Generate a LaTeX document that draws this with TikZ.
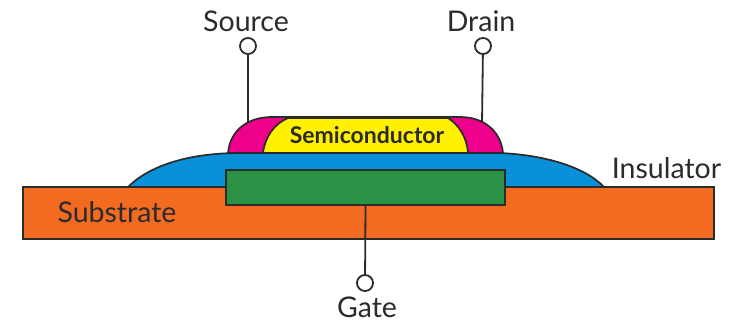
\documentclass[tikz,border=0pt]{standalone}
\usepackage{fontspec}
\setmainfont{Lato}
\definecolor{subst}{HTML}{F36A21}
\definecolor{insul}{HTML}{0A8FD9}
\definecolor{gatec}{HTML}{2A9145}
\definecolor{semi}{HTML}{FFF100}
\definecolor{magen}{HTML}{EC008C}
\definecolor{linec}{HTML}{2B2B2B}
\tikzset{
 px/.style={x=1pt,y=-1pt},
 part/.style={draw=linec,line width=1.7pt},
 wire/.style={draw=linec,line width=1.8pt},
 term/.style={circle,draw=linec,line width=1.8pt,fill=white,minimum size=16pt,inner sep=0pt},
 lab/.style={inner sep=0pt,text=linec,font=\fontsize{28.5}{30}\selectfont},
 sublab/.style={inner sep=0pt,text=linec,font=\fontsize{23}{26}\selectfont\bfseries}
}
\begin{document}
\begin{tikzpicture}[px]
\useasboundingbox (0,0) rectangle (731,322);
\coordinate (sbot) at (248,124);
\coordinate (dbot) at (482,124);
\node[term] (s) at (248,46) {};
\node[term] (d) at (483,46) {};
\node[term] (g) at (365,283) {};
\draw[wire] (s) -- (sbot);
\draw[wire] (d) -- (dbot);
\path[part,fill=subst] (23,187) rectangle (714,239);
\path[part,fill=magen] (228,153) .. controls (230,130) and (248,117) .. (272,117) -- (460,117) .. controls (485,117) and (501,132) .. (503,153) -- cycle;
\path[part,fill=semi] (263,153) .. controls (265,137) and (274,124) .. (288,118) -- (448,118) .. controls (458,124) and (467,137) .. (468,153) -- cycle;
\path[part,fill=insul] (128,187) .. controls (150,165) and (190,153) .. (240,153) -- (500,153) .. controls (545,155) and (585,167) .. (604,187) -- cycle;
\node[draw=linec,line width=1.9pt,fill=gatec,minimum width=279pt,minimum height=35pt,inner sep=0pt] (gate) at (365.5,187.5) {};
\draw[wire] (gate.south) -- (g);
\node[lab] at (246,21) {Source};
\node[lab] at (481,21) {Drain};
\node[lab] at (666.5,168) {Insulator};
\node[lab] at (117,212) {Substrate};
\node[lab] at (367,307.5) {Gate};
\node[sublab] at (367,135) {Semiconductor};
\end{tikzpicture}
\end{document}
